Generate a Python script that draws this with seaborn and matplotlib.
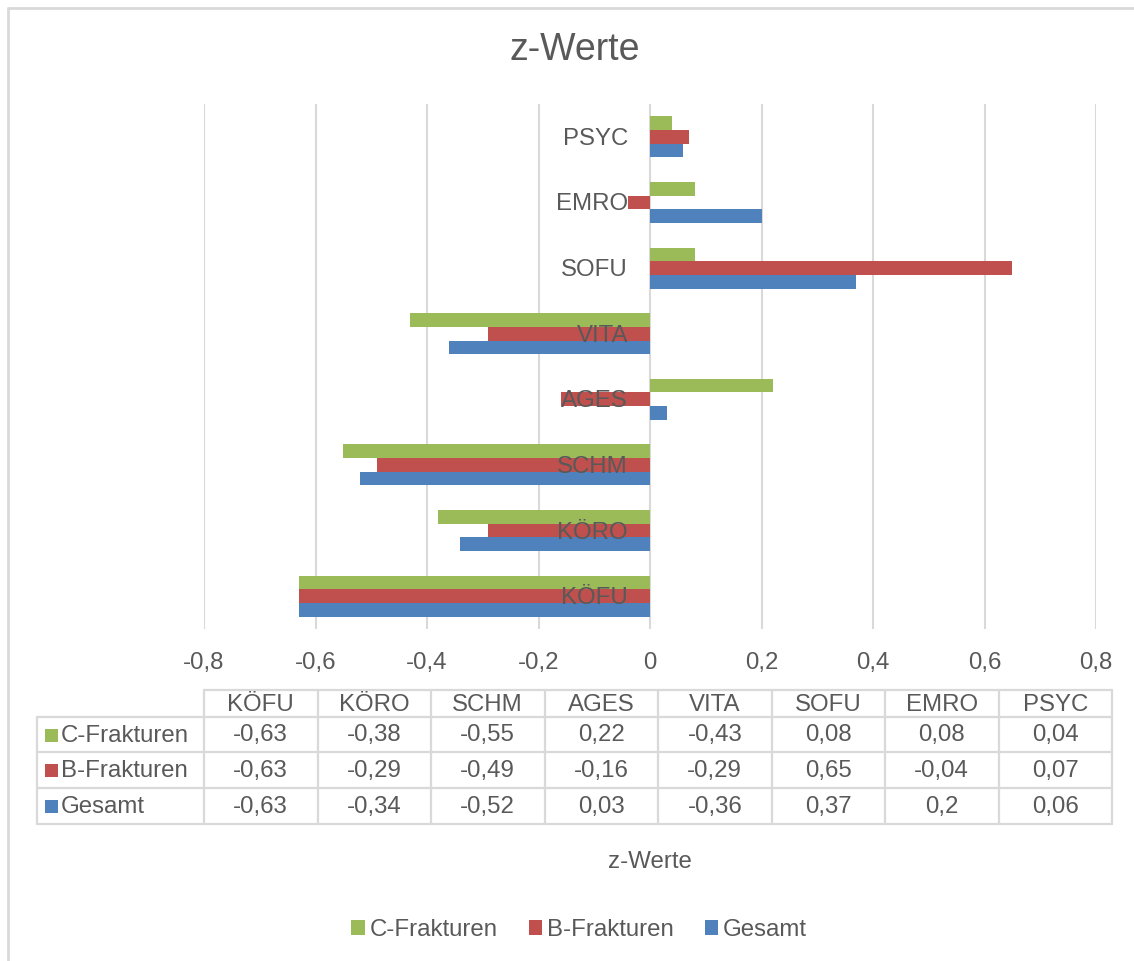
import matplotlib
matplotlib.use("Agg")
import matplotlib.pyplot as plt
import seaborn as sns
import pandas as pd
from matplotlib.lines import Line2D
from matplotlib.patches import Rectangle, Patch

# ---- data -------------------------------------------------------------
categories = ["KÖFU", "KÖRO", "SCHM", "AGES", "VITA", "SOFU", "EMRO", "PSYC"]
series_names = ["C-Frakturen", "B-Frakturen", "Gesamt"]
c_frakturen = [-0.63, -0.38, -0.55, 0.22, -0.43, 0.08, 0.08, 0.04]
b_frakturen = [-0.63, -0.29, -0.49, -0.16, -0.29, 0.65, -0.04, 0.07]
gesamt = [-0.63, -0.34, -0.52, 0.03, -0.36, 0.37, 0.2, 0.06]
x_ticks = [-0.8, -0.6, -0.4, -0.2, 0.0, 0.2, 0.4, 0.6, 0.8]
title = "z-Werte"
axis_title = "z-Werte"

colors = {"C-Frakturen": "#9BBB59", "B-Frakturen": "#C0504D", "Gesamt": "#4F81BD"}
TEXT = "#595959"
GRID = "#D9D9D9"
FS = 17.3


def de(v):
    """German decimal comma formatting."""
    if abs(v) < 1e-12:
        return "0"
    return f"{v:g}".replace(".", ",")


values = {"C-Frakturen": c_frakturen, "B-Frakturen": b_frakturen, "Gesamt": gesamt}
df = pd.DataFrame(
    [(cat, s, values[s][i]) for s in series_names for i, cat in enumerate(categories)],
    columns=["category", "series", "value"],
)

# ---- figure -----------------------------------------------------------
W, H = 1134, 961
sns.set_theme(style="white")
plt.rcParams["font.family"] = ["Liberation Sans", "DejaVu Sans"]

fig = plt.figure(figsize=(W / 100, H / 100), dpi=100)
fig.patch.set_facecolor("white")


def fx(px):
    return px / W


def fy(py):
    return 1 - py / H


ax = fig.add_axes([fx(204), fy(629), (1096 - 204) / W, (629 - 104) / H])

order_top_down = categories[::-1]
sns.barplot(
    data=df, x="value", y="category", hue="series",
    order=order_top_down, hue_order=series_names, palette=colors,
    orient="h", width=0.625, gap=0, saturation=1, errorbar=None,
    linewidth=0, legend=False, ax=ax,
)

ax.set_xlim(-0.8, 0.8)
ax.set_ylim(len(categories) - 0.5, -0.5)
ax.set_xticks(x_ticks)
ax.set_xticklabels([de(t) for t in x_ticks])
ax.set_yticks([])
ax.set_xlabel("")
ax.set_ylabel("")
ax.grid(axis="x", color=GRID, lw=1.5)
ax.set_axisbelow(True)
for sp in ax.spines.values():
    sp.set_visible(False)
ax.tick_params(axis="x", length=0, pad=16.5, labelsize=FS, labelcolor=TEXT)
ax.set_facecolor("none")

# category labels sit next to the zero line, above the bars
for i, cat in enumerate(order_top_down):
    ax.annotate(cat, xy=(0, i), xytext=(-22, -2), textcoords="offset pixels",
                ha="right", va="center", fontsize=FS, color=TEXT, zorder=6)

# ---- titles -----------------------------------------------------------
fig.text(fx(575), fy(50), title, ha="center", va="center", fontsize=27, color=TEXT)
fig.text(fx(650), fy(862), axis_title, ha="center", va="center", fontsize=FS, color=TEXT)

# ---- data table -------------------------------------------------------
col_left, col_w = 204, 113.5
head_top, head_bot = 690, 717
row_edges = [717, 752, 788, 824]
label_left = 37
tab_right = col_left + col_w * len(categories)


def hline(y, x0, x1):
    fig.add_artist(Line2D([fx(x0), fx(x1)], [fy(y), fy(y)], transform=fig.transFigure,
                          color=GRID, lw=1.6))


def vline(x, y0, y1):
    fig.add_artist(Line2D([fx(x), fx(x)], [fy(y0), fy(y1)], transform=fig.transFigure,
                          color=GRID, lw=1.6))


hline(head_top, col_left, tab_right)
for y in row_edges:
    hline(y, label_left, tab_right)
vline(label_left, row_edges[0], row_edges[-1])
for j in range(len(categories) + 1):
    vline(col_left + col_w * j, head_top, row_edges[-1])

for j, cat in enumerate(categories):
    cx = col_left + col_w * (j + 0.5)
    fig.text(fx(cx), fy((head_top + head_bot) / 2 + 1.5), cat, ha="center", va="center",
             fontsize=FS, color=TEXT)

for r, s in enumerate(series_names):
    cy = (row_edges[r] + row_edges[r + 1]) / 2
    fig.add_artist(Rectangle((fx(45), fy(cy + 7)), 13 / W, 13 / H,
                             transform=fig.transFigure, color=colors[s], lw=0))
    fig.text(fx(61), fy(cy + 1), s, ha="left", va="center", fontsize=FS, color=TEXT)
    for j, v in enumerate(values[s]):
        cx = col_left + col_w * (j + 0.5)
        fig.text(fx(cx), fy(cy + 1), de(v), ha="center", va="center", fontsize=FS, color=TEXT)

# ---- legend -----------------------------------------------------------
handles = [Patch(facecolor=colors[s], edgecolor="none", label=s) for s in series_names]
fig.legend(handles=handles, loc="center", bbox_to_anchor=(fx(579), fy(930)), ncol=3,
           frameon=False, fontsize=FS, labelcolor=TEXT, handlelength=0.55,
           handleheight=0.55, handletextpad=0.2, columnspacing=1.3)

# ---- outer chart frame --------------------------------------------------
fig.add_artist(Line2D([fx(8), fx(8)], [fy(8), 0], transform=fig.transFigure, color=GRID, lw=2))
fig.add_artist(Line2D([fx(8), 1], [fy(8), fy(8)], transform=fig.transFigure, color=GRID, lw=2))

fig.savefig("out.png", dpi=100)
